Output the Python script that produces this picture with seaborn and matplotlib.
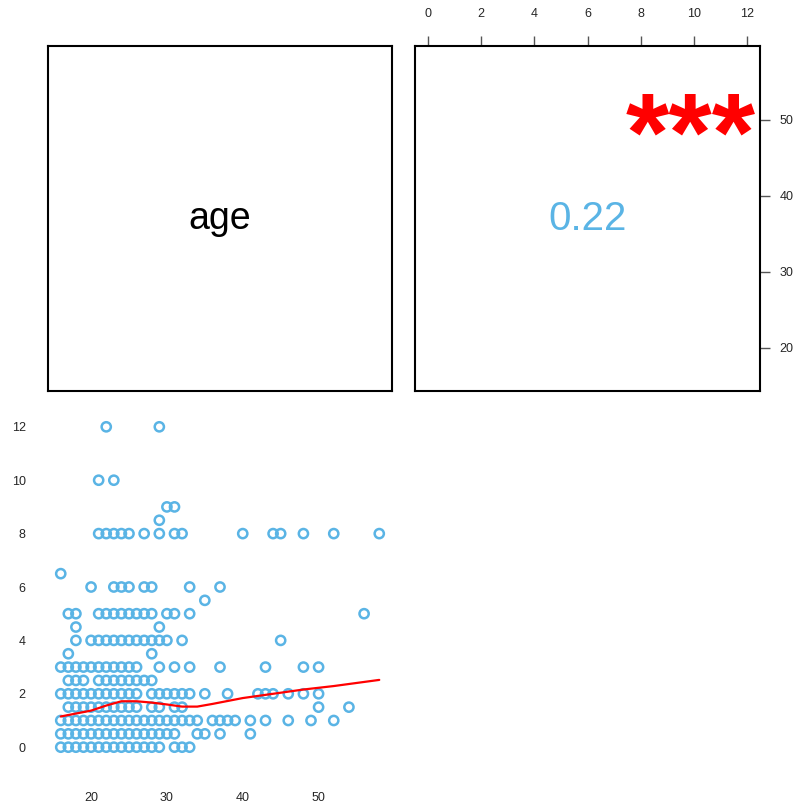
import pandas as pd
import matplotlib.pyplot as plt
import seaborn as sns

# === Data ===
# levels of the second variable, and the ages seen at each level
levels = [0, 0.5, 1, 1.5, 2, 2.5, 3, 3.5, 4, 4.5, 5, 5.5, 6, 6.5, 8, 8.5, 9, 10, 12]
ages_at_level = [
    [16, 17, 18, 19, 20, 21, 22, 23, 24, 25, 26, 27, 28, 29, 31, 32, 33],
    [16, 17, 18, 19, 20, 21, 22, 23, 24, 25, 26, 27, 28, 29, 30, 31, 34, 35, 37, 41],
    [16, 17, 18, 19, 20, 21, 22, 23, 24, 25, 26, 27, 28, 29, 30, 31, 32, 33, 34,
     36, 37, 38, 39, 41, 43, 46, 49, 52],
    [17, 18, 19, 20, 21, 22, 23, 24, 25, 26, 28, 29, 31, 32, 50, 54],
    [16, 17, 18, 19, 20, 21, 22, 23, 24, 25, 26, 28, 29, 30, 31, 32, 33, 35, 38,
     42, 43, 44, 46, 48, 50],
    [17, 18, 19, 21, 22, 23, 24, 25, 26, 27, 28],
    [16, 17, 18, 19, 20, 21, 22, 23, 24, 25, 26, 29, 31, 33, 37, 43, 48, 50],
    [17, 28],
    [18, 20, 21, 22, 23, 24, 25, 26, 27, 28, 29, 30, 32, 45],
    [18, 29],
    [17, 18, 21, 22, 23, 24, 25, 26, 27, 28, 30, 31, 33, 56],
    [35],
    [20, 23, 24, 25, 27, 28, 33, 37],
    [16],
    [21, 22, 23, 24, 25, 27, 29, 31, 32, 40, 44, 45, 48, 52, 58],
    [29],
    [30, 31],
    [21, 23],
    [22, 29],
]

# smoothing line
smooth_age = [16, 20, 22, 24, 26, 28, 30, 32, 34, 36, 40, 44, 48, 52, 58]
smooth_val = [1.15, 1.37, 1.56, 1.72, 1.72, 1.67, 1.60, 1.52, 1.52, 1.62,
              1.84, 2.00, 2.16, 2.29, 2.52]

var_name = "age"
r_text = "0.22"
stars = "***"

age_ticks = [20, 30, 40, 50]
val_ticks = [0, 2, 4, 6, 8, 10, 12]

blue = "#5AB4E5"

rows = []
for lv, ages in zip(levels, ages_at_level):
    for a in ages:
        rows.append({"age": a, "value": lv})
df = pd.DataFrame(rows)
smooth = pd.DataFrame({"age": smooth_age, "value": smooth_val})

sns.set_style("white")
plt.rcParams["font.family"] = ["Liberation Sans", "DejaVu Sans"]

fig = plt.figure(figsize=(8.01, 8.05), dpi=100)
W, H = 801, 805


def frac(x0, y0, x1, y1):
    return [x0 / W, 1 - y1 / H, (x1 - x0) / W, (y1 - y0) / H]


age_lim = (14.32, 59.68)
val_lim = (-0.48, 12.48)

# === Diagonal: variable name ===
ax_d = fig.add_axes(frac(48, 46, 392, 391))
ax_d.set_xticks([])
ax_d.set_yticks([])
ax_d.text(0.5, 0.5, var_name, transform=ax_d.transAxes, ha="center",
          va="center", fontsize=27, color="black")

# === Upper panel: correlation ===
ax_u = fig.add_axes(frac(415, 46, 760, 391))
ax_u.set_xlim(val_lim)
ax_u.set_ylim(age_lim)
ax_u.xaxis.tick_top()
ax_u.yaxis.tick_right()
ax_u.set_xticks(val_ticks)
ax_u.set_yticks(age_ticks)
ax_u.tick_params(axis="both", length=7, width=1, color="#555555",
                 labelsize=9, direction="out")
ax_u.tick_params(axis="x", pad=12)
ax_u.tick_params(axis="y", pad=7)
ax_u.text(0.5, 0.5, r_text, transform=ax_u.transAxes, ha="center",
          va="center", fontsize=29, color=blue)
# stars: the glyph sits high in its box, so the anchor is set a little lower
ax_u.text(0.8, 0.722, stars, transform=ax_u.transAxes, ha="center",
          va="center", fontsize=80, fontweight="bold", color="red",
          zorder=10, clip_on=False)

for ax in (ax_d, ax_u):
    for s in ax.spines.values():
        s.set_visible(True)
        s.set_color("black")
        s.set_linewidth(1.5)
        s.set_zorder(2)

# === Lower panel: scatter ===
ax_l = fig.add_axes(frac(48, 414, 392, 760))
sns.scatterplot(data=df, x="age", y="value", ax=ax_l, marker="o", s=44,
                facecolors="none", edgecolor=blue, linewidth=1.8)
sns.lineplot(data=smooth, x="age", y="value", ax=ax_l, color="red",
             linewidth=1.6)
ax_l.set_xlim(age_lim)
ax_l.set_ylim(val_lim)
ax_l.set_xticks(age_ticks)
ax_l.set_yticks(val_ticks)
ax_l.set_xlabel("")
ax_l.set_ylabel("")
ax_l.tick_params(axis="both", length=0, labelsize=9)
ax_l.tick_params(axis="x", pad=23)
ax_l.tick_params(axis="y", pad=16)
for s in ax_l.spines.values():
    s.set_visible(False)

plt.savefig("out.png", dpi=100)
